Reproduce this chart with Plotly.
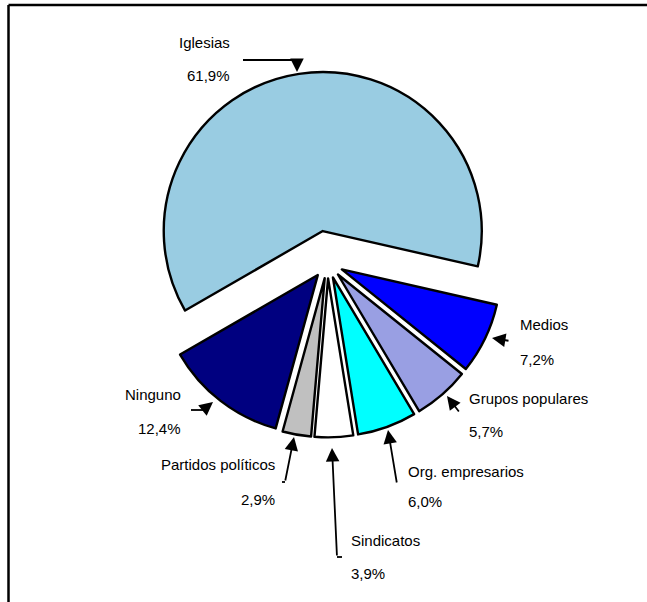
import plotly.graph_objects as go

# ---- data ----
categories = ["Iglesias", "Medios", "Grupos populares", "Org. empresarios",
              "Sindicatos", "Partidos políticos", "Ninguno"]
shares = [61.9, 7.2, 5.7, 6.0, 3.9, 2.9, 12.4]

# ---- style ----
slice_colors = ["#99CCE2", "#0000FF", "#999FE3", "#00FFFF",
                "#FFFFFF", "#C0C0C0", "#000080"]
slice_pull = [0.2, 0.1, 0.1, 0.1, 0.1, 0.1, 0.1]

W, H = 647, 602


def fx(x):
    return x / W


def fy(y):
    return 1 - y / H


# pie domain (pixels): centre ~ (327.5, 262.5), box 381.6 px
cx, cy, half = 327.5, 262.5, 190.8

fig = go.Figure(go.Pie(
    labels=categories,
    values=shares,
    sort=False,
    direction="clockwise",
    rotation=240,
    pull=slice_pull,
    marker=dict(colors=slice_colors, line=dict(color="#000000", width=2.4)),
    textinfo="none",
    hoverinfo="label+percent",
    showlegend=False,
    domain=dict(x=[fx(cx - half), fx(cx + half)], y=[fy(cy + half), fy(cy - half)]),
))

# label placement (pixels): anchor x, align, name y, pct y
label_layout = {
    "Iglesias": (232, "right", 43, 76),
    "Medios": (518, "left", 324, 359),
    "Grupos populares": (467, "left", 398, 431),
    "Org. empresarios": (406, "left", 471, 501),
    "Sindicatos": (349, "left", 540, 573),
    "Partidos políticos": (277, "right", 464, 499),
    "Ninguno": (183, "right", 394, 428),
}

# leader arrows: tip (x, y), tail (x, y), extra segment end (or None)
leaders = {
    "Iglesias": ((297, 72), (297, 60), (243, 60)),
    "Medios": ((492, 338), (510, 341), None),
    "Grupos populares": ((447, 396), (460, 413), None),
    "Org. empresarios": ((388, 430), (397, 484), None),
    "Sindicatos": ((332, 448), (337, 557), (342, 557)),
    "Partidos políticos": ((294, 437), (285, 482), (282, 482)),
    "Ninguno": ((213, 402), (203, 410), (191, 410)),
}

font = dict(family="Liberation Sans, Arial, sans-serif", size=15, color="#000000")
annotations = []
shapes = []
for name, val in zip(categories, shares):
    x, anchor, y1, y2 = label_layout[name]
    pct = f"{val:.1f}%".replace(".", ",")
    for txt, yy in ((name, y1), (pct, y2)):
        annotations.append(dict(
            x=fx(x), y=fy(yy), xref="paper", yref="paper", text=txt,
            showarrow=False, xanchor=anchor, yanchor="middle", font=font,
        ))
    tip, tail, seg = leaders[name]
    annotations.append(dict(
        x=fx(tip[0]), y=fy(tip[1]), xref="paper", yref="paper", text="",
        showarrow=True, ax=tail[0] - tip[0], ay=tail[1] - tip[1],
        arrowhead=2, arrowsize=1.5, arrowwidth=1.8, arrowcolor="#000000",
        standoff=0, startstandoff=0,
    ))
    if seg is not None:
        shapes.append(dict(
            type="line", xref="paper", yref="paper",
            x0=fx(tail[0]), y0=fy(tail[1]), x1=fx(seg[0]), y1=fy(seg[1]),
            line=dict(color="#000000", width=1.8),
        ))

# frame (top and left edges visible)
shapes.append(dict(type="line", xref="paper", yref="paper",
                   x0=fx(8.5), y0=fy(5), x1=fx(W), y1=fy(5),
                   line=dict(color="#000000", width=2.5)))
shapes.append(dict(type="line", xref="paper", yref="paper",
                   x0=fx(8.5), y0=fy(5), x1=fx(8.5), y1=fy(H),
                   line=dict(color="#000000", width=2.5)))

fig.update_layout(
    width=W, height=H,
    margin=dict(l=0, r=0, t=0, b=0),
    paper_bgcolor="#FFFFFF",
    plot_bgcolor="#FFFFFF",
    annotations=annotations,
    shapes=shapes,
)

fig.write_html(
    "out.html",
    config={"displayModeBar": False},
    post_script="document.body.style.margin='0';document.body.style.overflow='hidden';",
)
